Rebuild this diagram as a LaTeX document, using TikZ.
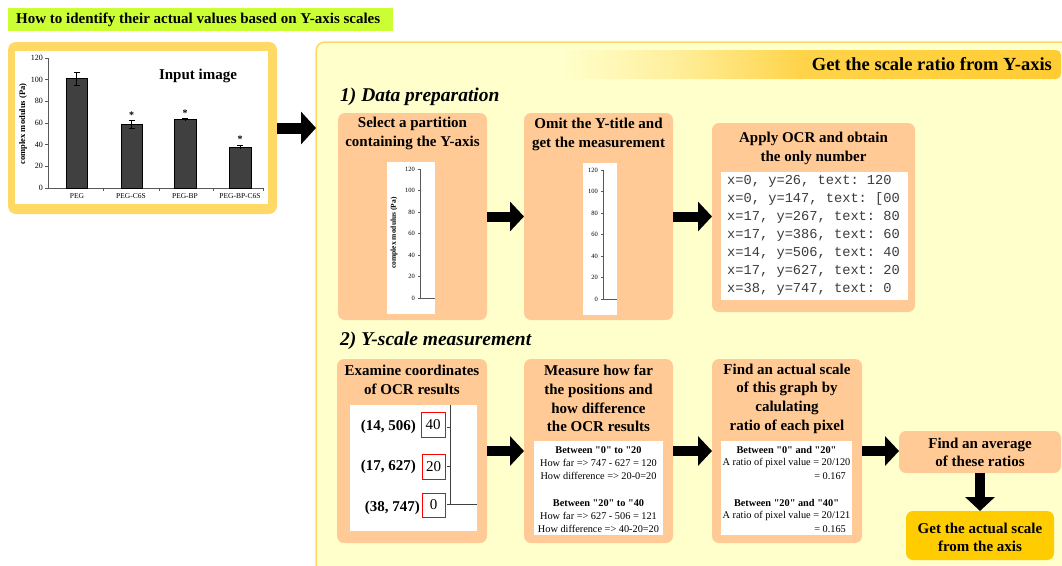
\documentclass[tikz,border=0pt]{standalone}
\usepackage{fontspec}
\setmainfont{Liberation Serif}
\setmonofont{Liberation Mono}
% same serif face without the TeX input mapping, for straight double quotes
\newfontfamily\plainserif{Liberation Serif}
\newcommand\dq{{\plainserif\symbol{34}}}
\usetikzlibrary{arrows.meta,fit}

\definecolor{lime}{HTML}{CCFF33}
\definecolor{panelgold}{HTML}{FFD966}
\definecolor{cream}{HTML}{FFFFCC}
\definecolor{peach}{HTML}{FFCA96}
\definecolor{amber}{HTML}{FFCC00}
\definecolor{bandgold}{HTML}{FFCC33}
\definecolor{bardark}{HTML}{404040}
\definecolor{ocrgray}{HTML}{3C3C3C}
\definecolor{axisgray}{HTML}{595959}

% the filled path covers the 25bp--75bp part of this shading
\pgfdeclarehorizontalshading{bandshade}{100bp}{
  color(0bp)=(cream); color(25bp)=(cream); color(36bp)=(bandgold!30!cream);
  color(49bp)=(bandgold!85!cream); color(75bp)=(bandgold); color(100bp)=(bandgold)}

\newcommand\fsz[2]{\fontsize{#1}{#2}\selectfont}

\begin{document}
\begin{tikzpicture}[x=1pt,y=-1pt,
  area/.style={inner sep=0pt, outer sep=0pt},
  stepbox/.style={area, fill=peach, rounded corners=7pt},
  whitebox/.style={area, fill=white},
  boxtitle/.style={font=\bfseries\fsz{15}{18.7}, align=center, inner sep=0pt},
  sectitle/.style={font=\bfseries\itshape\fsz{19.5}{22}, anchor=west, inner sep=0pt},
  small/.style={font=\fsz{10.3}{13}, align=center, inner sep=0pt},
  smallbold/.style={font=\bfseries\fsz{10.3}{13}, inner sep=0pt},
  flow/.style={line width=10pt, -{Triangle[width=29pt,length=14pt]}},
  bigflow/.style={line width=11pt, -{Triangle[width=32pt,length=15pt]}},
  ticklab/.style={font=\fsz{8}{9}, anchor=east, inner sep=0pt},
  minilab/.style={font=\fsz{6.5}{7}, anchor=east, inner sep=0pt},
  catlab/.style={font=\fsz{7.5}{8}, inner sep=0pt},
  axisline/.style={draw=axisgray, line width=0.8pt},
  redbox/.style={draw=red, line width=1pt, fill=white, inner sep=0pt, outer sep=0pt}
]
\useasboundingbox (0,0) rectangle (1062,565);
\begin{scope}
\clip (0,0) rectangle (1062,565);

% ---------- title banner ----------
\node[area, fill=lime, fit={(8,8) (393,31)}] (banner) {};
\node[font=\bfseries\fsz{15}{16}, anchor=west, inner sep=0pt] (bannertxt) at (16,19.5)
  {How to identify their actual values based on Y-axis scales};

% ---------- input image panel ----------
\node[area, fill=panelgold, rounded corners=8pt, fit={(8,42) (277,214)}] (inpanel) {};
\node[whitebox, fit={(15,51) (268,204)}] (inimg) {};

% axes of the bar chart
\draw[axisline] (48,58) -- (48,188) -- (263,188);
\foreach \v in {0,20,...,120}{
  \draw[axisline] (45,{188-\v*130/120}) -- (48,{188-\v*130/120});
  \node[ticklab] (yt\v) at (43,{188-\v*130/120}) {\v};
}
\foreach \xx in {103,159,213,263}{
  \draw[axisline] (\xx,188) -- (\xx,191);
}
\node[font=\bfseries\fsz{8.5}{9}, rotate=90, inner sep=0pt] (ytitle) at (23,124) {complex modulus (Pa)};

% bars, error bars and markers
\draw[fill=bardark, line width=0.8pt] (66,188) rectangle (87,78.6);
\draw[fill=bardark, line width=0.8pt] (121,188) rectangle (142,124.1);
\draw[fill=bardark, line width=0.8pt] (174,188) rectangle (196,119.8);
\draw[fill=bardark, line width=0.8pt] (229,188) rectangle (251,147.4);
\draw[line width=0.8pt] (76.5,85.1) -- (76.5,72.1) (73.5,85.1) -- (79.5,85.1) (73.5,72.1) -- (79.5,72.1);
\draw[line width=0.8pt] (131.5,127.9) -- (131.5,120.3) (128.5,127.9) -- (134.5,127.9) (128.5,120.3) -- (134.5,120.3);
\draw[line width=0.8pt] (185,120.8) -- (185,118.7) (182,118.7) -- (188,118.7);
\draw[line width=0.8pt] (240,149) -- (240,145.7) (237,145.7) -- (243,145.7);
\node[font=\bfseries\fsz{10}{10}, inner sep=0pt] (star1) at (131.5,115) {*};
\node[font=\bfseries\fsz{10}{10}, inner sep=0pt] (star2) at (185,113) {*};
\node[font=\bfseries\fsz{10}{10}, inner sep=0pt] (star3) at (240,139) {*};
\node[catlab] (c1) at (77,196.5) {PEG};
\node[catlab] (c2) at (131,196.5) {PEG-C6S};
\node[catlab] (c3) at (185,196.5) {PEG-BP};
\node[catlab] (c4) at (240,196.5) {PEG-BP-C6S};
\node[font=\bfseries\fsz{15}{16}, inner sep=0pt] (intitle) at (198,76) {Input image};

% ---------- main panel ----------
\node[area, fill=cream, draw=panelgold, line width=1.5pt, rounded corners=9pt,
      fit={(316,42) (1090,600)}] (bigpanel) {};
\shade[shading=bandshade, rounded corners=5pt] (560,50) rectangle (1061,79);
\node[font=\bfseries\fsz{18.5}{20}, anchor=east, inner sep=0pt] (bandtxt) at (1052,64.5)
  {Get the scale ratio from Y-axis};

% ---------- 1) data preparation ----------
\node[sectitle] (sec1) at (340,97) {1) Data preparation};

\node[stepbox, fit={(338,113) (487,320)}] (b1) {};
\node[stepbox, fit={(524,113) (673,320)}] (b2) {};
\node[stepbox, fit={(712,123) (915,312)}] (b3) {};
\node[boxtitle] (b1t) at (412.5,133.5) {Select a partition\\containing the Y-axis};
\node[boxtitle] (b2t) at (598.5,134.5) {Omit the Y-title and\\get the measurement};
\node[boxtitle] (b3t) at (813.5,148.5) {Apply OCR and obtain\\the only number};

% cropped axis with its title
\node[whitebox, fit={(387,162) (435,314)}] (crop1) {};
\draw[axisline, line width=0.6pt] (420,169) -- (420,298) -- (435,298);
\foreach \v [count=\k from 0] in {120,100,80,60,40,20,0}{
  \draw[axisline, line width=0.6pt] (418,{169+\k*21.5}) -- (420,{169+\k*21.5});
  \node[minilab] (pa\v) at (415,{169+\k*21.5}) {\v};
}
\node[font=\bfseries\fsz{7.5}{8}, rotate=90, inner sep=0pt] (crop1title) at (394,233) {complex modulus (Pa)};

% cropped axis without its title
\node[whitebox, fit={(583,163) (617,315)}] (crop2) {};
\draw[axisline, line width=0.6pt] (603,170) -- (603,299) -- (617,299);
\foreach \v [count=\k from 0] in {120,100,80,60,40,20,0}{
  \draw[axisline, line width=0.6pt] (601,{170+\k*21.5}) -- (603,{170+\k*21.5});
  \node[minilab] (pb\v) at (598,{170+\k*21.5}) {\v};
}

% OCR output
\node[whitebox, fit={(721,172) (908,300)}] (ocr) {};
\node[font=\ttfamily\fsz{13.7}{18}, text=ocrgray, align=left, anchor=west, inner sep=0pt] (ocrtxt) at (727,235.5)
  {x=0, y=26, text: 120\\x=0, y=147, text: [00\\x=17, y=267, text: 80\\x=17, y=386, text: 60\\x=14, y=506, text: 40\\x=17, y=627, text: 20\\x=38, y=747, text: 0};

% ---------- 2) Y-scale measurement ----------
\node[sectitle] (sec2) at (340,341) {2) Y-scale measurement};

\node[stepbox, fit={(337,359) (487,543)}] (b4) {};
\node[stepbox, fit={(524,359) (673,543)}] (b5) {};
\node[stepbox, fit={(712,359) (862,543)}] (b6) {};
\node[stepbox, fit={(899,431) (1061,473)}] (b7) {};
\node[stepbox, fill=amber, fit={(906,511) (1054,560)}] (b8) {};

\node[boxtitle] (b4t) at (412,380) {Examine coordinates\\of OCR results};
\node[boxtitle] (b5t) at (598.5,398.5) {Measure how far\\the positions and\\how difference\\the OCR results};
\node[boxtitle] (b6t) at (787,398.5) {Find an actual scale\\of this graph by\\calulating\\ratio of each pixel};
\node[boxtitle] (b7t) at (980,452.5) {Find an average\\of these ratios};
\node[boxtitle] (b8t) at (980,537.5) {Get the actual scale\\from the axis};

% coordinates of OCR results
\node[whitebox, fit={(350,405) (477,531)}] (coordimg) {};
\draw[draw=black!75, line width=0.9pt] (450,405) -- (450,504) -- (477,504);
\draw[draw=black!75, line width=0.9pt] (447,427) -- (450,427) (447,466) -- (450,466) (447,504) -- (450,504);
\node[redbox, fit={(421,412) (445,437)}] (r40) {};
\node[redbox, fit={(422,454) (445,479)}] (r20) {};
\node[redbox, fit={(422,493) (445,517)}] (r0) {};
\node[font=\fsz{15}{16}, inner sep=0pt] (n40) at (r40) {40};
\node[font=\fsz{15}{16}, inner sep=0pt] (n20) at (r20) {20};
\node[font=\fsz{15}{16}, inner sep=0pt] (n0) at (r0) {0};
\node[font=\bfseries\fsz{15}{16}, anchor=east, inner sep=0pt] (p40) at (416,427) {(14, 506)};
\node[font=\bfseries\fsz{15}{16}, anchor=east, inner sep=0pt] (p20) at (416,467) {(17, 627)};
\node[font=\bfseries\fsz{15}{16}, anchor=east, inner sep=0pt] (p0) at (420,508) {(38, 747)};

% distances and differences
\node[whitebox, fit={(534,441) (663,535)}] (distbox) {};
\node[smallbold] (d1h) at (598.5,450) {Between \dq0\dq{} to \dq20};
\node[small] (d1) at (598.5,469.5) {How far => 747 - 627 = 120\\How difference => 20-0=20};
\node[smallbold] (d2h) at (598.5,503) {Between \dq20\dq{} to \dq40};
\node[small] (d2) at (598.5,522.5) {How far => 627 - 506 = 121\\How difference => 40-20=20};

% ratios
\node[whitebox, fit={(721,441) (852,535)}] (ratiobox) {};
\node[smallbold] (q1h) at (786.5,450) {Between \dq0\dq{} and \dq20\dq};
\node[small] (q1) at (786.5,463) {A ratio of pixel value = 20/120};
\node[small, anchor=east] (q1r) at (846,476) {= 0.167};
\node[smallbold] (q2h) at (786.5,503) {Between \dq20\dq{} and \dq40\dq};
\node[small] (q2) at (786.5,516) {A ratio of pixel value = 20/121};
\node[small, anchor=east] (q2r) at (846,529) {= 0.165};

% ---------- flow arrows ----------
\draw[bigflow] (inpanel.east) -- (inpanel.east -| bigpanel.west);
\draw[flow] (b1.east) -- (b2.west);
\draw[flow] (b2.east) -- (b2.east -| b3.west);
\draw[flow] (b4.east) -- (b5.west);
\draw[flow] (b5.east) -- (b6.west);
\draw[flow] (b6.east) -- (b6.east -| b7.west);
\draw[flow] (b7.south) -- (b8.north);
\end{scope}
\end{tikzpicture}
\end{document}
